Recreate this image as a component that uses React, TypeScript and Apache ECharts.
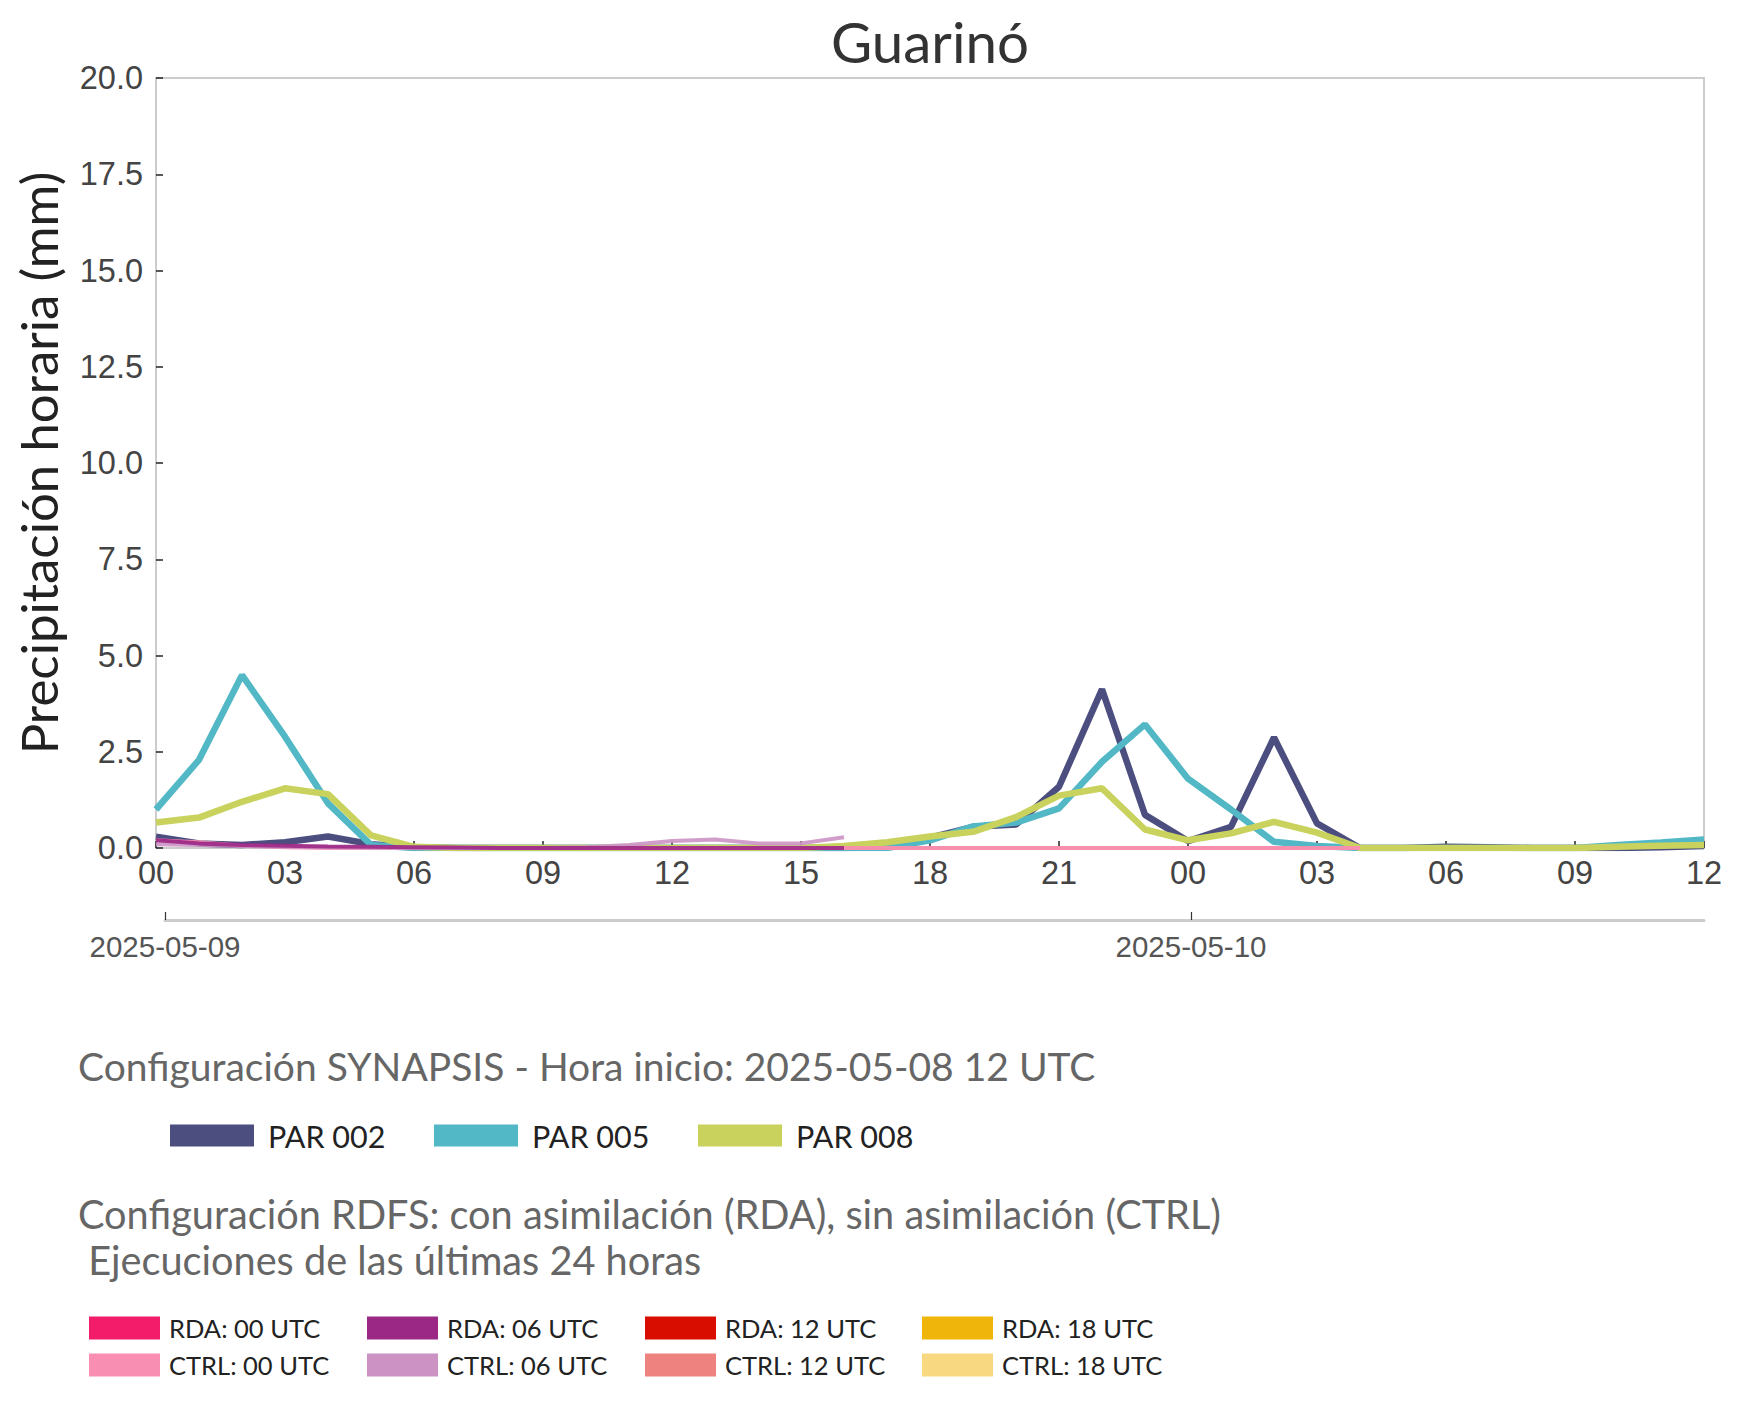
import React, { useEffect, useRef } from "react";
import * as echarts from "echarts";

// ---------- data ----------
const HOUR_LABELS = [
  "00", "01", "02", "03", "04", "05", "06", "07", "08", "09", "10", "11",
  "12", "13", "14", "15", "16", "17", "18", "19", "20", "21", "22", "23",
  "00", "01", "02", "03", "04", "05", "06", "07", "08", "09", "10", "11", "12",
];
const DATE_TICK_INDEX = [0, 24];
const DATE_LABELS = ["2025-05-09", "2025-05-10"];

const Y_MIN = 0;
const Y_MAX = 20;
const Y_STEP = 2.5;

const PAR_002 = [
  0.29, 0.12, 0.08, 0.15, 0.3, 0.1, 0.02, 0, 0, 0, 0, 0, 0, 0, 0, 0, 0, 0.02,
  0.27, 0.55, 0.61, 1.59, 4.12, 0.86, 0.18, 0.55, 2.87, 0.64, 0, 0, 0.03, 0.02,
  0, 0, 0, 0.02, 0.05,
];
const PAR_005 = [
  1.0, 2.29, 4.49, 2.89, 1.16, 0.08, 0, 0, 0, 0, 0, 0, 0, 0, 0, 0, 0, 0,
  0.2, 0.56, 0.66, 1.03, 2.24, 3.21, 1.8, 1.0, 0.16, 0.05, 0, 0, 0, 0, 0, 0,
  0.08, 0.14, 0.22,
];
const PAR_008 = [
  0.66, 0.79, 1.2, 1.55, 1.4, 0.33, 0.03, 0, 0, 0, 0, 0, 0, 0, 0, 0, 0.05,
  0.15, 0.3, 0.42, 0.8, 1.36, 1.55, 0.48, 0.2, 0.38, 0.68, 0.4, 0, 0, 0, 0, 0,
  0, 0.03, 0.06, 0.08,
];

const PAR_NAMES = ["PAR 002", "PAR 005", "PAR 008"];
const PAR_COLORS = ["#4b4e7f", "#52b8c6", "#c8d25d"];
const PAR_VALUES = [PAR_002, PAR_005, PAR_008];

// RDFS runs (start hour index, values)
const RDA_00: number[] = [];
const RDA_06 = [0.2, 0.12, 0.08, 0.06, 0.04, 0.03, 0.02, 0.01, 0, 0, 0, 0, 0, 0, 0, 0, 0];
const RDA_12: number[] = [];
const RDA_18: number[] = [];
const CTRL_00 = [
  0.2, 0.15, 0.06, 0.02, 0, 0, 0, 0, 0, 0, 0, 0, 0, 0, 0, 0, 0, 0, 0, 0, 0, 0,
  0, 0, 0, 0, 0, 0, 0,
];
const CTRL_06 = [0.1, 0.08, 0.05, 0.03, 0.02, 0.01, 0, 0, 0, 0, 0.02, 0.08, 0.18, 0.22, 0.12, 0.12, 0.28];
const CTRL_12 = [0, 0, 0, 0, 0, 0, 0, 0, 0, 0, 0, 0, 0];
const CTRL_18: number[] = [];

const RDFS_ROW1 = ["RDA: 00 UTC", "RDA: 06 UTC", "RDA: 12 UTC", "RDA: 18 UTC"];
const RDFS_ROW2 = ["CTRL: 00 UTC", "CTRL: 06 UTC", "CTRL: 12 UTC", "CTRL: 18 UTC"];
const RDFS_COLORS: Record<string, string> = {
  "RDA: 00 UTC": "#f21c6b",
  "RDA: 06 UTC": "#9c2885",
  "RDA: 12 UTC": "#d90c00",
  "RDA: 18 UTC": "#f0b50a",
  "CTRL: 00 UTC": "#f88fb3",
  "CTRL: 06 UTC": "#cc92c4",
  "CTRL: 12 UTC": "#ee827e",
  "CTRL: 18 UTC": "#f8d982",
};
// drawing order (bottom to top)
const RDFS_RUNS: { name: string; start: number; values: number[] }[] = [
  { name: "RDA: 00 UTC", start: 0, values: RDA_00 },
  { name: "RDA: 12 UTC", start: 0, values: RDA_12 },
  { name: "RDA: 18 UTC", start: 0, values: RDA_18 },
  { name: "CTRL: 18 UTC", start: 0, values: CTRL_18 },
  { name: "CTRL: 12 UTC", start: 16, values: CTRL_12 },
  { name: "CTRL: 00 UTC", start: 0, values: CTRL_00 },
  { name: "CTRL: 06 UTC", start: 0, values: CTRL_06 },
  { name: "RDA: 06 UTC", start: 0, values: RDA_06 },
];

const TITLE = "Guarinó";
const Y_NAME = "Precipitación horaria (mm)";
const SYN_TEXT = "Configuración SYNAPSIS - Hora inicio: 2025-05-08 12 UTC";
const RDFS_TEXT_1 = "Configuración RDFS: con asimilación (RDA), sin asimilación (CTRL)";
const RDFS_TEXT_2 = " Ejecuciones de las últimas 24 horas";

// ---------- layout ----------
const W = 1743;
const H = 1410;
const PLOT_LEFT = 156;
const PLOT_RIGHT = 1704;
const PLOT_TOP = 78;
const PLOT_BOTTOM = 848;
const DATE_AXIS_LEFT = 165;
const DATE_AXIS_Y = 920;

const SANS = "Lato";
const TICK_FONT = "Liberation Sans";

function buildOption() {
  const parSeries = PAR_NAMES.map((name, i) => ({
    name,
    type: "line",
    xAxisIndex: 0,
    yAxisIndex: 0,
    data: PAR_VALUES[i],
    color: PAR_COLORS[i],
    symbol: "none",
    lineStyle: { width: 6.5, color: PAR_COLORS[i] },
    z: 3,
  }));
  const rdfsSeries = RDFS_RUNS.map((r) => ({
    name: r.name,
    type: "line",
    xAxisIndex: 0,
    yAxisIndex: 0,
    data: r.values.map((v, i) => [r.start + i, v]),
    color: RDFS_COLORS[r.name],
    symbol: "none",
    lineStyle: { width: 4, color: RDFS_COLORS[r.name], opacity: 0.9 },
    z: 4,
  }));

  const legends: any[] = [];
  const parLefts = [170, 434, 698];
  PAR_NAMES.forEach((n, i) => {
    legends.push({
      data: [n],
      left: parLefts[i],
      top: 1120,
      padding: 0,
      icon: "rect",
      itemWidth: 84,
      itemHeight: 22,
      itemStyle: { borderWidth: 0 },
      textStyle: {
        fontFamily: SANS,
        fontSize: 30.5,
        color: "#222",
        lineHeight: 30,
        padding: [0, 0, 0, 9],
      },
    });
  });
  const rdfsLefts = [89, 367, 645, 922];
  [RDFS_ROW1, RDFS_ROW2].forEach((row, r) => {
    row.forEach((n, i) => {
      legends.push({
        data: [n],
        left: rdfsLefts[i],
        top: r === 0 ? 1314 : 1351,
        padding: 0,
        icon: "rect",
        itemWidth: 71,
        itemHeight: 23,
        itemStyle: { borderWidth: 0 },
        textStyle: {
          fontFamily: SANS,
          fontSize: 25.5,
          color: "#222",
          lineHeight: 28,
          padding: [0, 0, 0, 4],
        },
      });
    });
  });

  const txt = (text: string, x: number, y: number, size: number, color: string, align = "left") => ({
    type: "text",
    x,
    y,
    silent: true,
    style: {
      text,
      fontFamily: SANS,
      fontSize: size,
      fill: color,
      align,
      textAlign: align,
      verticalAlign: "middle",
      textVerticalAlign: "middle",
    },
  });

  return {
    animation: false,
    backgroundColor: "#fff",
    grid: [
      {
        left: PLOT_LEFT,
        top: PLOT_TOP,
        width: PLOT_RIGHT - PLOT_LEFT,
        height: PLOT_BOTTOM - PLOT_TOP,
        show: true,
        borderColor: "#cccccc",
        borderWidth: 2,
        backgroundColor: "#fff",
        containLabel: false,
      },
      {
        left: DATE_AXIS_LEFT,
        top: DATE_AXIS_Y - 20,
        width: PLOT_RIGHT - DATE_AXIS_LEFT,
        height: 20,
        show: false,
      },
    ],
    xAxis: [
      {
        type: "category",
        gridIndex: 0,
        data: HOUR_LABELS,
        boundaryGap: false,
        axisLine: { show: false },
        axisTick: {
          show: true,
          inside: true,
          interval: 2,
          length: 7,
          lineStyle: { color: "#222", width: 1.5 },
        },
        axisLabel: {
          interval: 2,
          margin: 8,
          fontFamily: TICK_FONT,
          fontSize: 32.5,
          color: "#444",
        },
        splitLine: { show: false },
      },
      {
        type: "category",
        gridIndex: 1,
        data: HOUR_LABELS,
        boundaryGap: false,
        position: "bottom",
        axisLine: { show: true, lineStyle: { color: "#cccccc", width: 3 } },
        axisTick: {
          show: true,
          inside: true,
          length: 8,
          interval: (i: number) => DATE_TICK_INDEX.includes(i),
          lineStyle: { color: "#333", width: 1.2 },
        },
        axisLabel: {
          interval: (i: number) => DATE_TICK_INDEX.includes(i),
          formatter: (_v: string, i: number) => {
            const k = DATE_TICK_INDEX.indexOf(i);
            return k >= 0 ? DATE_LABELS[k] : "";
          },
          margin: 11,
          fontFamily: TICK_FONT,
          fontSize: 29.5,
          color: "#555",
        },
        splitLine: { show: false },
      },
    ],
    yAxis: [
      {
        type: "value",
        gridIndex: 0,
        min: Y_MIN,
        max: Y_MAX,
        interval: Y_STEP,
        axisLine: { show: false },
        axisTick: {
          show: true,
          inside: true,
          length: 7,
          lineStyle: { color: "#222", width: 1.5 },
        },
        axisLabel: {
          formatter: (v: number) => v.toFixed(1),
          margin: 13,
          fontFamily: TICK_FONT,
          fontSize: 32.5,
          color: "#444",
        },
        splitLine: { show: false },
        name: Y_NAME,
        nameLocation: "middle",
        nameRotate: 90,
        nameGap: 92,
        nameTextStyle: { fontFamily: SANS, fontSize: 51, color: "#222" },
      },
      { type: "value", gridIndex: 1, show: false },
    ],
    legend: legends,
    series: [...parSeries, ...rdfsSeries],
    graphic: [
      txt(TITLE, 930, 41, 56.5, "#333", "center"),
      txt(SYN_TEXT, 78, 1066, 39, "#666"),
      txt(RDFS_TEXT_1, 78, 1213, 39.7, "#666"),
      txt(RDFS_TEXT_2, 78, 1259, 39.7, "#666"),
    ],
  };
}

export default function App() {
  const ref = useRef<HTMLDivElement>(null);
  useEffect(() => {
    document.body.style.margin = "0";
    const chart = echarts.init(ref.current!, null, { renderer: "svg" });
    chart.setOption(buildOption() as any);
    return () => chart.dispose();
  }, []);
  return <div ref={ref} style={{ width: W, height: H }} />;
}
